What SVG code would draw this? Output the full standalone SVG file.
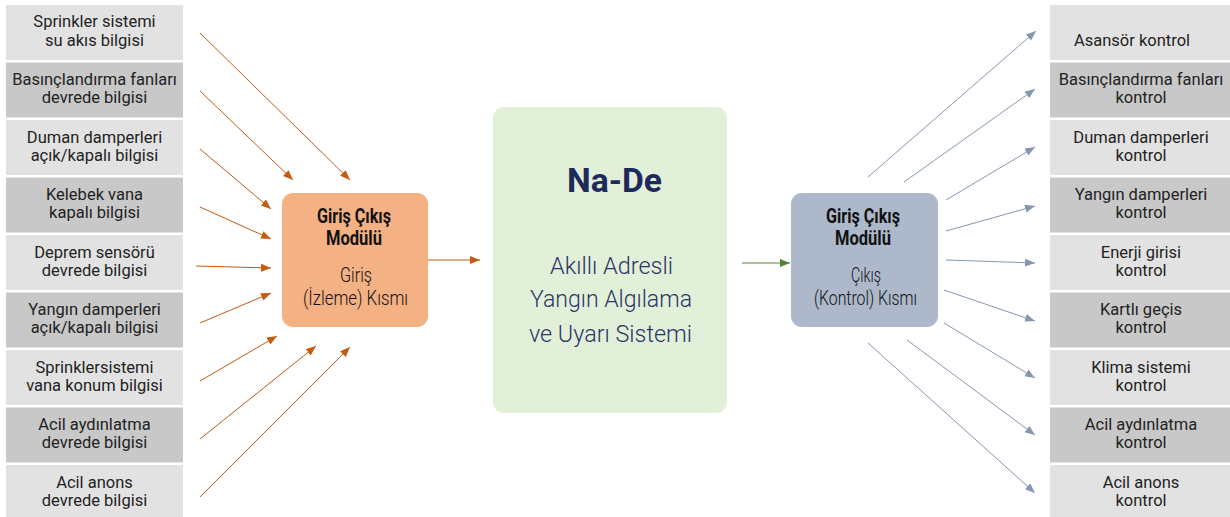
<svg xmlns="http://www.w3.org/2000/svg" width="1230" height="517" viewBox="0 0 1230 517">
<defs>
<style>
.bg{fill:#ffffff}
.lt{fill:#E2E2E2}
.dk{fill:#C8C8C8}
.gt{font-family:Roboto,"Liberation Sans",sans-serif;font-size:16.5px;fill:#222222;text-anchor:middle}
.mh{font-family:Roboto,"Liberation Sans",sans-serif;font-size:20px;font-weight:700;fill:#111;text-anchor:middle}
.mt{font-family:Roboto,"Liberation Sans",sans-serif;font-size:19.5px;font-weight:300;fill:#111;text-anchor:middle}
.ct{font-family:Roboto,"Liberation Sans",sans-serif;font-size:24px;font-weight:300;fill:#2B3566;text-anchor:middle}
.ch{font-family:Roboto,"Liberation Sans",sans-serif;font-size:34px;font-weight:700;fill:#1F2A5C;text-anchor:middle}
.oa{stroke:#C55A11;stroke-width:1;fill:none}
.ba{stroke:#8497B0;stroke-width:1;fill:none}
.ga{stroke:#548235;stroke-width:1;fill:none}
</style>
<marker id="ho" markerUnits="userSpaceOnUse" markerWidth="11" markerHeight="9" refX="10" refY="4" orient="auto"><path d="M0,0 L10,4 L0,8 z" fill="#C55A11"/></marker>
<marker id="hb" markerUnits="userSpaceOnUse" markerWidth="11" markerHeight="9" refX="10" refY="4" orient="auto"><path d="M0,0 L10,4 L0,8 z" fill="#8497B0"/></marker>
<marker id="hg" markerUnits="userSpaceOnUse" markerWidth="11" markerHeight="9" refX="10" refY="4" orient="auto"><path d="M0,0 L10,4 L0,8 z" fill="#548235"/></marker>
</defs>
<rect class="bg" x="0" y="0" width="1230" height="517"/>

<g id="in1"><rect class="lt" x="6" y="5" width="177" height="55"/><text class="gt" x="94.5" y="27">Sprinkler sistemi</text><text class="gt" x="94.5" y="45.5">su akıs bilgisi</text></g>
<g id="in2"><rect class="dk" x="6" y="62.5" width="177" height="55"/><text class="gt" x="94.5" y="85">Basınçlandırma fanları</text><text class="gt" x="94.5" y="103">devrede bilgisi</text></g>
<g id="in3"><rect class="lt" x="6" y="120" width="177" height="55"/><text class="gt" x="94.5" y="142.5">Duman damperleri</text><text class="gt" x="94.5" y="160.5">açık/kapalı bilgisi</text></g>
<g id="in4"><rect class="dk" x="6" y="177.5" width="177" height="55"/><text class="gt" x="94.5" y="200">Kelebek vana</text><text class="gt" x="94.5" y="218">kapalı bilgisi</text></g>
<g id="in5"><rect class="lt" x="6" y="235" width="177" height="55"/><text class="gt" x="94.5" y="257.5">Deprem sensörü</text><text class="gt" x="94.5" y="275.5">devrede bilgisi</text></g>
<g id="in6"><rect class="dk" x="6" y="292.5" width="177" height="55"/><text class="gt" x="94.5" y="315">Yangın damperleri</text><text class="gt" x="94.5" y="333">açık/kapalı bilgisi</text></g>
<g id="in7"><rect class="lt" x="6" y="350" width="177" height="55"/><text class="gt" x="94.5" y="372.5">Sprinklersistemi</text><text class="gt" x="94.5" y="390.5">vana konum bilgisi</text></g>
<g id="in8"><rect class="dk" x="6" y="407.5" width="177" height="55"/><text class="gt" x="94.5" y="430">Acil aydınlatma</text><text class="gt" x="94.5" y="448">devrede bilgisi</text></g>
<g id="in9"><rect class="lt" x="6" y="465" width="177" height="55"/><text class="gt" x="94.5" y="487.5">Acil anons</text><text class="gt" x="94.5" y="505.5">devrede bilgisi</text></g>

<g id="out1"><rect class="lt" x="1050" y="5" width="180" height="55"/><text class="gt" x="1132" y="45.5">Asansör kontrol</text></g>
<g id="out2"><rect class="dk" x="1050" y="62.5" width="180" height="55"/><text class="gt" x="1141" y="85">Basınçlandırma fanları</text><text class="gt" x="1141" y="103">kontrol</text></g>
<g id="out3"><rect class="lt" x="1050" y="120" width="180" height="55"/><text class="gt" x="1141" y="142.5">Duman damperleri</text><text class="gt" x="1141" y="160.5">kontrol</text></g>
<g id="out4"><rect class="dk" x="1050" y="177.5" width="180" height="55"/><text class="gt" x="1141" y="200">Yangın damperleri</text><text class="gt" x="1141" y="218">kontrol</text></g>
<g id="out5"><rect class="lt" x="1050" y="235" width="180" height="55"/><text class="gt" x="1141" y="257.5">Enerji girisi</text><text class="gt" x="1141" y="275.5">kontrol</text></g>
<g id="out6"><rect class="dk" x="1050" y="292.5" width="180" height="55"/><text class="gt" x="1141" y="315">Kartlı geçis</text><text class="gt" x="1141" y="333">kontrol</text></g>
<g id="out7"><rect class="lt" x="1050" y="350" width="180" height="55"/><text class="gt" x="1141" y="372.5">Klima sistemi</text><text class="gt" x="1141" y="390.5">kontrol</text></g>
<g id="out8"><rect class="dk" x="1050" y="407.5" width="180" height="55"/><text class="gt" x="1141" y="430">Acil aydınlatma</text><text class="gt" x="1141" y="448">kontrol</text></g>
<g id="out9"><rect class="lt" x="1050" y="465" width="180" height="55"/><text class="gt" x="1141" y="487.5">Acil anons</text><text class="gt" x="1141" y="505.5">kontrol</text></g>

<g id="inputModule">
<rect x="282" y="193" width="146" height="134" rx="11" fill="#F4B183"/>
<text class="mh" x="354" y="223" textLength="74" lengthAdjust="spacingAndGlyphs">Giriş Çıkış</text>
<text class="mh" x="354" y="245" textLength="56" lengthAdjust="spacingAndGlyphs">Modülü</text>
<text class="mt" x="356" y="281.5" textLength="32" lengthAdjust="spacingAndGlyphs">Giriş</text>
<text class="mt" x="355.5" y="305" textLength="105" lengthAdjust="spacingAndGlyphs">(İzleme) Kısmı</text>
</g>

<g id="center">
<rect x="493" y="107" width="234" height="306" rx="11" fill="#E2F0D9"/>
<text class="ch" x="614.5" y="192" textLength="95" lengthAdjust="spacingAndGlyphs">Na-De</text>
<text class="ct" x="611.5" y="274" textLength="123" lengthAdjust="spacingAndGlyphs">Akıllı Adresli</text>
<text class="ct" x="611" y="307" textLength="162" lengthAdjust="spacingAndGlyphs">Yangın Algılama</text>
<text class="ct" x="610.5" y="342" textLength="163" lengthAdjust="spacingAndGlyphs">ve Uyarı Sistemi</text>
</g>

<g id="outputModule">
<rect x="791" y="193" width="147" height="134" rx="11" fill="#ADB9CA"/>
<text class="mh" x="863" y="223" textLength="74" lengthAdjust="spacingAndGlyphs">Giriş Çıkış</text>
<text class="mh" x="863" y="245" textLength="56" lengthAdjust="spacingAndGlyphs">Modülü</text>
<text class="mt" x="866" y="281.5" textLength="30" lengthAdjust="spacingAndGlyphs">Çıkış</text>
<text class="mt" x="865.5" y="305" textLength="103" lengthAdjust="spacingAndGlyphs">(Kontrol) Kısmı</text>
</g>

<g id="connectors">
<line class="oa" x1="200" y1="33" x2="350" y2="180" marker-end="url(#ho)"/>
<line class="oa" x1="200" y1="91" x2="293" y2="180" marker-end="url(#ho)"/>
<line class="oa" x1="200" y1="149" x2="271" y2="209" marker-end="url(#ho)"/>
<line class="oa" x1="200" y1="207" x2="271" y2="239" marker-end="url(#ho)"/>
<line class="oa" x1="196" y1="266" x2="271" y2="268" marker-end="url(#ho)"/>
<line class="oa" x1="200" y1="323" x2="271" y2="293" marker-end="url(#ho)"/>
<line class="oa" x1="200" y1="381" x2="277" y2="336" marker-end="url(#ho)"/>
<line class="oa" x1="200" y1="439" x2="316" y2="346" marker-end="url(#ho)"/>
<line class="oa" x1="200" y1="497" x2="350" y2="347" marker-end="url(#ho)"/>
<line class="oa" x1="428" y1="260" x2="480" y2="260" marker-end="url(#ho)"/>
<line class="ga" x1="742" y1="263" x2="790" y2="263" marker-end="url(#hg)"/>
<line class="ba" x1="868" y1="177" x2="1036" y2="31" marker-end="url(#hb)"/>
<line class="ba" x1="904" y1="182" x2="1035" y2="89" marker-end="url(#hb)"/>
<line class="ba" x1="946" y1="200" x2="1035" y2="147" marker-end="url(#hb)"/>
<line class="ba" x1="946" y1="231" x2="1035" y2="206" marker-end="url(#hb)"/>
<line class="ba" x1="946" y1="260" x2="1035" y2="263" marker-end="url(#hb)"/>
<line class="ba" x1="944" y1="290" x2="1035" y2="321" marker-end="url(#hb)"/>
<line class="ba" x1="944" y1="323" x2="1035" y2="378" marker-end="url(#hb)"/>
<line class="ba" x1="907" y1="340" x2="1035" y2="435" marker-end="url(#hb)"/>
<line class="ba" x1="868" y1="343" x2="1035" y2="493" marker-end="url(#hb)"/>
</g>
</svg>
